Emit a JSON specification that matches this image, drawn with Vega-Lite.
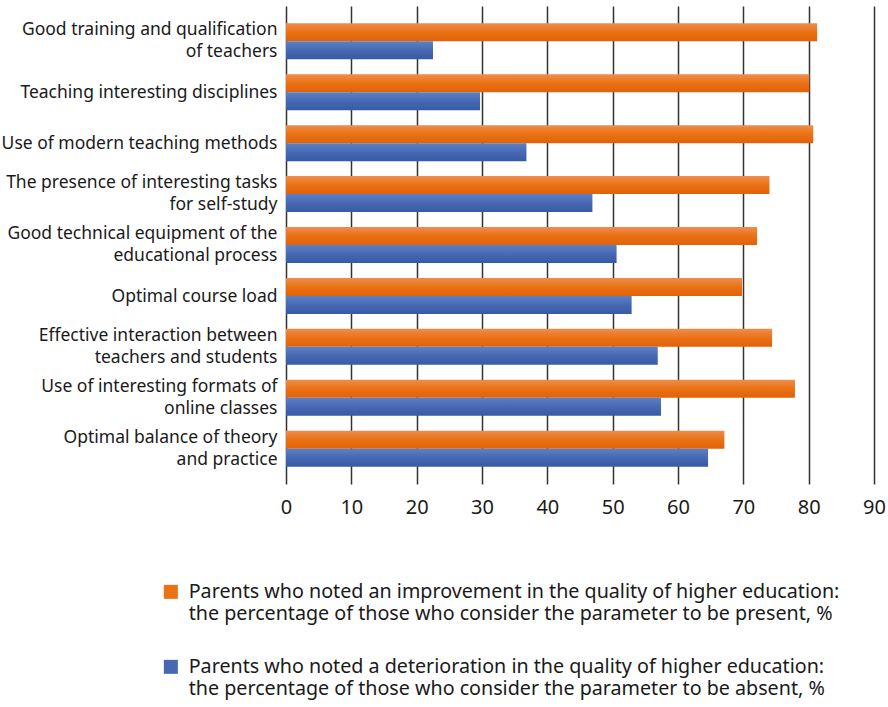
{
  "$schema": "https://vega.github.io/schema/vega-lite/v6.json",
  "autosize": {"type": "none"},
  "width": 588,
  "height": 478,
  "padding": {"left": 286, "top": 6, "right": 14, "bottom": 223},
  "background": "white",
  "config": {
    "view": {"stroke": null},
    "font": "Noto Sans"
  },
  "data": {
    "values": [
      {"category": "Good training and qualification|of teachers", "series": "improvement", "value": 81.3},
      {"category": "Good training and qualification|of teachers", "series": "deterioration", "value": 22.5},
      {"category": "Teaching interesting disciplines", "series": "improvement", "value": 80.1},
      {"category": "Teaching interesting disciplines", "series": "deterioration", "value": 29.7},
      {"category": "Use of modern teaching methods", "series": "improvement", "value": 80.7},
      {"category": "Use of modern teaching methods", "series": "deterioration", "value": 36.8},
      {"category": "The presence of interesting tasks|for self-study", "series": "improvement", "value": 74.0},
      {"category": "The presence of interesting tasks|for self-study", "series": "deterioration", "value": 46.9},
      {"category": "Good technical equipment of the|educational process", "series": "improvement", "value": 72.1},
      {"category": "Good technical equipment of the|educational process", "series": "deterioration", "value": 50.6},
      {"category": "Optimal course load", "series": "improvement", "value": 69.8},
      {"category": "Optimal course load", "series": "deterioration", "value": 52.9},
      {"category": "Effective interaction between|teachers and students", "series": "improvement", "value": 74.4},
      {"category": "Effective interaction between|teachers and students", "series": "deterioration", "value": 56.9},
      {"category": "Use of interesting formats of|online classes", "series": "improvement", "value": 77.9},
      {"category": "Use of interesting formats of|online classes", "series": "deterioration", "value": 57.4},
      {"category": "Optimal balance of theory|and practice", "series": "improvement", "value": 67.1},
      {"category": "Optimal balance of theory|and practice", "series": "deterioration", "value": 64.6}
    ]
  },
  "mark": {"type": "bar", "strokeWidth": 0},
  "encoding": {
    "y": {
      "field": "category",
      "type": "nominal",
      "sort": null,
      "scale": {"paddingInner": 0.293, "paddingOuter": 0.34},
      "axis": {
        "title": null,
        "domain": false,
        "ticks": false,
        "labelExpr": "split(datum.value, '|')",
        "labelFontSize": 17.5,
        "labelLineHeight": 22,
        "labelColor": "#1a1a1a",
        "labelPadding": 9,
        "labelLimit": 400,
        "labelOffset": {"condition": {"test": "indexof(datum.value, '|') >= 0", "value": -11}, "value": 1}
      }
    },
    "yOffset": {
      "field": "series",
      "type": "nominal",
      "sort": ["improvement", "deterioration"]
    },
    "x": {
      "field": "value",
      "type": "quantitative",
      "scale": {"domain": [0, 90], "nice": false},
      "axis": {
        "title": null,
        "values": [0, 10, 20, 30, 40, 50, 60, 70, 80, 90],
        "domain": false,
        "ticks": false,
        "grid": true,
        "gridColor": "#333333",
        "gridWidth": 1.5,
        "labelFlush": false,
        "labelFontSize": 20,
        "labelColor": "#1a1a1a",
        "labelPadding": 13
      }
    },
    "fill": {
      "condition": {
        "test": "datum.series == 'improvement'",
        "value": {"gradient": "linear", "x1": 0, "y1": 0, "x2": 0, "y2": 1, "stops": [{"offset": 0, "color": "#EF8D4C"}, {"offset": 0.5, "color": "#EA7114"}, {"offset": 1, "color": "#E0620A"}]}
      },
      "value": {"gradient": "linear", "x1": 0, "y1": 0, "x2": 0, "y2": 1, "stops": [{"offset": 0, "color": "#5C80C5"}, {"offset": 0.5, "color": "#4769B3"}, {"offset": 1, "color": "#375AA5"}]}
    },
    "stroke": {
      "field": "series",
      "type": "nominal",
      "sort": ["improvement", "deterioration"],
      "scale": {
        "domain": ["improvement", "deterioration"],
        "range": ["#EA7114", "#4769B3"]
      },
      "legend": {
        "title": null,
        "orient": "none",
        "legendX": -125,
        "legendY": 576,
        "direction": "vertical",
        "symbolType": "square",
        "symbolSize": 1,
        "symbolStrokeWidth": 13,
        "labelFontSize": 19.7,
        "labelColor": "#1a1a1a",
        "labelLimit": 800,
        "labelOffset": 8,
        "rowPadding": 16,
        "labelExpr": "datum.value == 'improvement' ? ['Parents who noted an improvement in the quality of higher education:', 'the percentage of those who consider the parameter to be present, %'] : ['Parents who noted a deterioration in the quality of higher education:', 'the percentage of those who consider the parameter to be absent, %']",
        "encode": {
          "symbols": {"update": {"fill": {"signal": "datum.value == 'improvement' ? '#EA7114' : '#4769B3'"}, "strokeWidth": {"value": 13}}},
          "labels": {"update": {"lineHeight": {"value": 23}}}
        }
      }
    }
  }
}
